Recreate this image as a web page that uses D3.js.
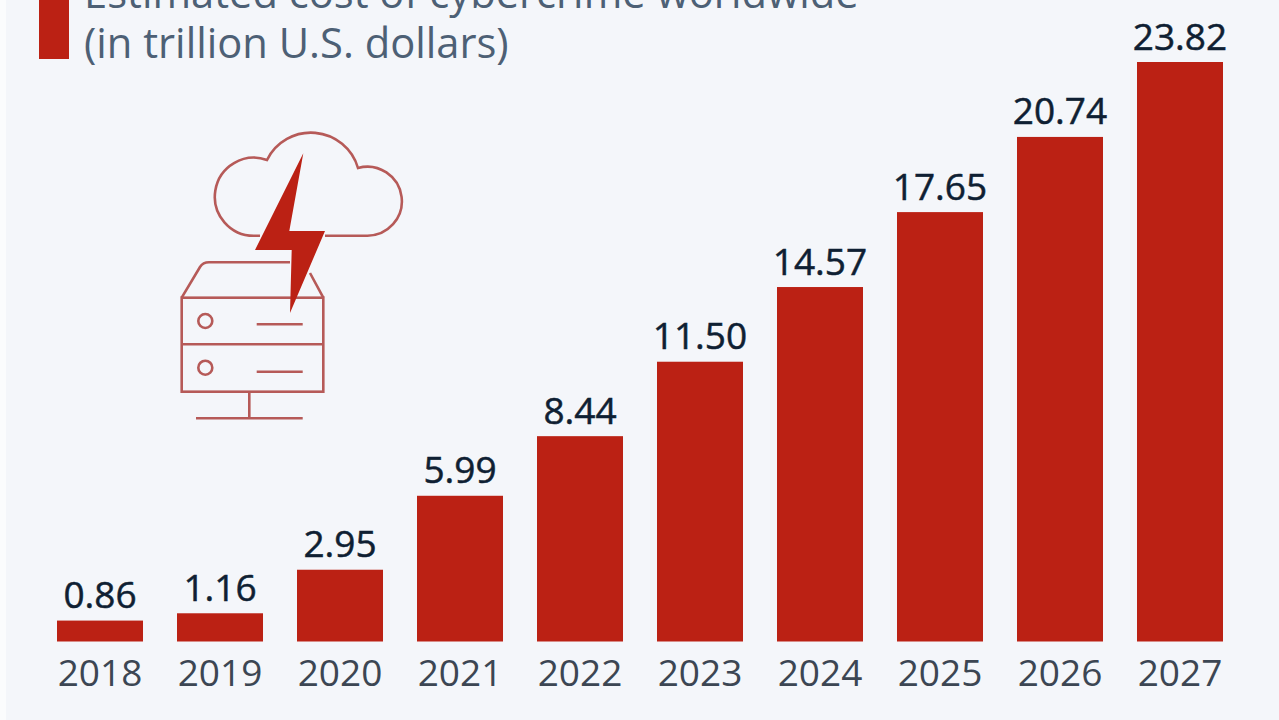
<!DOCTYPE html>
<html>
<head>
<meta charset="utf-8">
<title>Estimated cost of cybercrime worldwide</title>
<script src="https://d3js.org/d3.v7.min.js"></script>
<style>
html, body { margin: 0; padding: 0; background: #f4f6fa; overflow: hidden; }
svg { display: block; font-family: "Open Sans", sans-serif; }
</style>
</head>
<body>
<svg id="chart" width="1279" height="720"></svg>
<script>
// values
var years = ["2018", "2019", "2020", "2021", "2022", "2023", "2024", "2025", "2026", "2027"];
var costs = [0.86, 1.16, 2.95, 5.99, 8.44, 11.50, 14.57, 17.65, 20.74, 23.82];
var titleLines = ["Estimated cost of cybercrime worldwide", "(in trillion U.S. dollars)"];

var red = "#bb2114";
var svg = d3.select("#chart");

// slightly lighter strip on the left edge
svg.append("rect").attr("width", 6).attr("height", 720).attr("fill", "#fbfcfd");

var x = d3.scaleBand().domain(years).range([57, 1223]).paddingInner(0.2833).paddingOuter(0);
var y = d3.scaleLinear().domain([0, 23.82]).range([641.5, 62]);

// legend swatch and title, cut by the top of the picture
svg.append("rect").attr("x", 39).attr("y", -20).attr("width", 30).attr("height", 79).attr("fill", red);
svg.selectAll("text.title").data(titleLines).join("text")
  .attr("class", "title")
  .attr("x", 84)
  .attr("y", function(d, i) { return 8 + i * 50; })
  .attr("font-size", 41.7)
  .attr("fill", "#4d6075")
  .text(function(d) { return d; });

// bars
svg.selectAll("rect.bar").data(costs).join("rect")
  .attr("class", "bar")
  .attr("x", function(d, i) { return x(years[i]); })
  .attr("y", function(d) { return y(d); })
  .attr("width", x.bandwidth())
  .attr("height", function(d) { return y(0) - y(d); })
  .attr("fill", red);

// value labels
svg.selectAll("text.value").data(costs).join("text")
  .attr("class", "value")
  .attr("x", function(d, i) { return x(years[i]) + x.bandwidth() / 2; })
  .attr("y", function(d) { return y(d) - 12.5; })
  .attr("text-anchor", "middle")
  .attr("font-size", 37)
  .attr("font-weight", 500)
  .attr("fill", "#0f1f33")
  .attr("stroke", "#0f1f33")
  .attr("stroke-width", 0.5)
  .text(function(d) { return d.toFixed(2); });

// year axis
var axis = svg.append("g")
  .attr("transform", "translate(0,641.5)")
  .call(d3.axisBottom(x).tickSize(0).tickPadding(18));
axis.select(".domain").remove();
axis.selectAll("text")
  .attr("font-family", "'Open Sans', sans-serif")
  .attr("font-size", 37)
  .attr("fill", "#3c4653");

// icon
var icon = svg.append("g").attr("fill", "none").attr("stroke", "#b65a58").attr("stroke-width", 2.6);
icon.append("path").attr("d", "M260 235.7 H254.7 A39 39 0 1 1 267 160 A49 49 0 0 1 358 168 A34.5 34.5 0 1 1 366.7 235.7 H325");
icon.append("path").attr("d", "M181.7 297.7 L200 267 Q203 262.3 209 262.3 H290 M310 273 L323.3 297.7 Z");
icon.append("rect").attr("x", 181.7).attr("y", 297.7).attr("width", 141.6).attr("height", 94);
icon.append("path").attr("d", "M181.7 344.3 H323.3 M256.7 324.3 H302.7 M256.7 371.7 H302.7 M249.3 391.7 V418.3 M196 418.3 H302.7");
icon.append("circle").attr("cx", 205.3).attr("cy", 321).attr("r", 7);
icon.append("circle").attr("cx", 205.3).attr("cy", 367.7).attr("r", 7);
svg.append("path").attr("fill", red)
  .attr("d", "M303.3 153.3 L255 250 H291.7 L290 313 L325 231 H289.3 Z");
</script>
</body>
</html>
